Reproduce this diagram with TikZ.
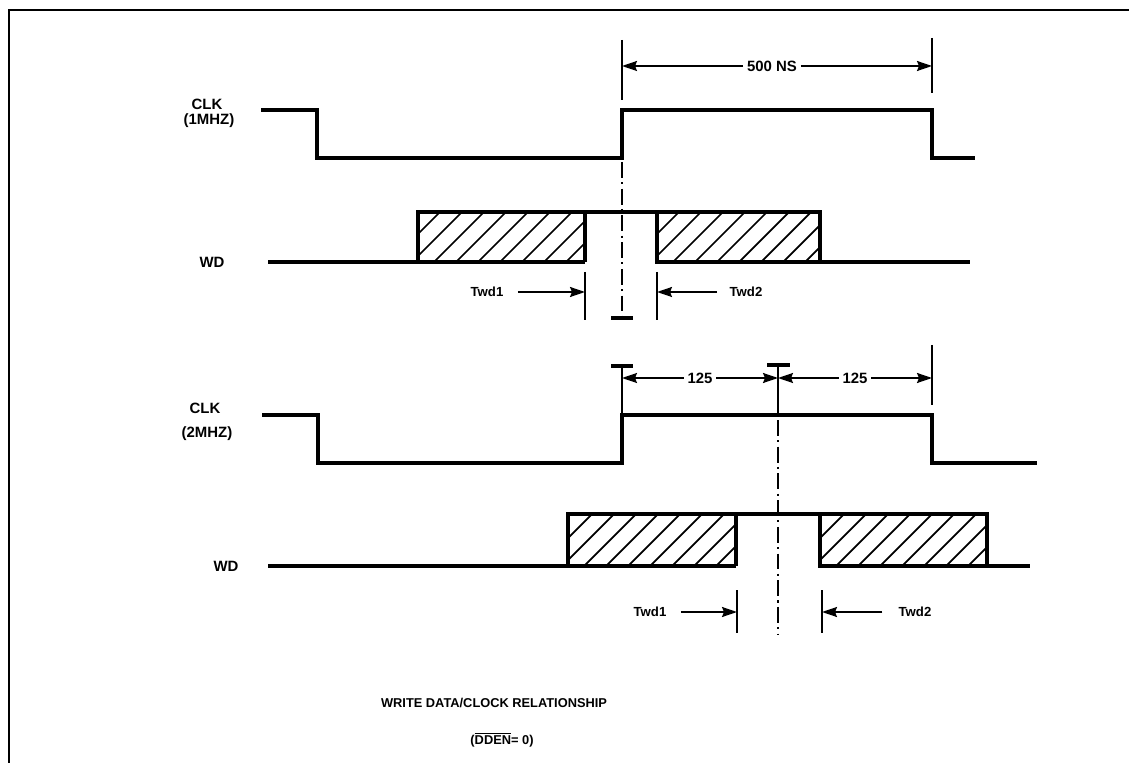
\documentclass[tikz,border=0pt]{standalone}
\usepackage{fontspec}
\setmainfont{Liberation Sans}
\usetikzlibrary{arrows.meta, positioning}
\tikzset{
    >={Stealth[length=3mm,width=2mm,inset=0.4mm]},  % narrow filled heads
    frame/.style={line width=1.6pt},
    signal/.style={line width=2.2pt, line join=miter},
    tick/.style={line width=1.1pt},
    bar/.style={line width=1.8pt},
    dim/.style={line width=1pt, ->},
    centre/.style={line width=1pt, dash pattern=on 9pt off 2.5pt on 1.2pt off 2.5pt},
    hatch/.style={line width=1pt},
    lbl/.style={font=\fontsize{8.5}{9}\selectfont\bfseries, inner sep=1pt},
    dimtext/.style={font=\fontsize{8.5}{9}\selectfont\bfseries, inner sep=2pt},
    small/.style={font=\fontsize{7.5}{8}\selectfont\bfseries, inner sep=1pt},
    caption/.style={font=\fontsize{7.3}{8}\selectfont\bfseries, inner sep=1pt},
}
% hatching inside a data window: left x, right x, top y, bottom y
\newcommand{\hatchbox}[4]{%
  \begin{scope}
    \clip (#1,#3) rectangle (#2,#4);
    \foreach \s in {0,22,...,242}
      \draw[hatch] (#1-50+\s,#4) -- ++(60,-60);
  \end{scope}}

\begin{document}
\begin{tikzpicture}[x=0.02cm, y=-0.02cm]
\useasboundingbox (0,0) rectangle (1129,763);

% frame
\draw[frame] (9,763) -- (9,10) -- (1129,10);

% labels
\node[lbl] (clkA) at (207,104) {CLK};
\node[lbl] (clkAf) at (209,121) {(1MHZ)};
\node[lbl] (wdA) at (212,262) {WD};
\node[lbl] (clkB) at (205,408) {CLK};
\node[lbl] (clkBf) at (207,434) {(2MHZ)};
\node[lbl] (wdB) at (226,566) {WD};

%%% 1 MHz clock
\draw[signal] (261,110) -- (317,110) -- (317,158) -- (622,158) -- (622,110)
  -- (932,110) -- (932,158) -- (975,158);

% 500 NS
\draw[tick] (622,40) -- (622,100);
\draw[tick] (932,38) -- (932,93);
\node[dimtext] (ns) at (772,66) {500 NS};
\coordinate (nsL) at (622,66);
\coordinate (nsR) at (932,66);
\draw[dim] (ns) -- (nsL);
\draw[dim] (ns) -- (nsR);

% write data
\hatchbox{418}{585}{212}{262}
\hatchbox{657}{820}{212}{262}
\draw[signal] (268,262) -- (585,262);
\draw[signal] (418,262) -- (418,212) -- (820,212) -- (820,262);
\draw[signal] (585,212) -- (585,262);
\draw[signal] (657,212) -- (657,262) -- (970,262);

\draw[centre] (622,162) -- (622,318);
\draw[bar] (611,318) -- (633,318);

% Twd1 / Twd2
\draw[tick] (585,272) -- (585,320);
\draw[tick] (657,272) -- (657,320);
\node[small] (twdA1) at (487,292) {Twd1};
\node[small] (twdA2) at (746,292) {Twd2};
\coordinate (tA1) at (585,292);
\coordinate (tA2) at (657,292);
\draw[dim, shorten <=7pt] (twdA1.east) -- (tA1);
\draw[dim, shorten <=6pt] (twdA2.west) -- (tA2);

%%% 2 MHz clock
\draw[signal] (262,415) -- (318,415) -- (318,463) -- (622,463) -- (622,415)
  -- (932,415) -- (932,463) -- (1037,463);

% 125 / 125
\draw[bar] (611,366) -- (633,366);
\draw[tick] (622,366) -- (622,413);
\draw[bar] (767,365) -- (790,365);
\draw[tick] (778,365) -- (778,415);
\draw[tick] (932,345) -- (932,405);
\node[dimtext] (qa) at (700,378) {125};
\node[dimtext] (qb) at (855,378) {125};
\coordinate (qL) at (622,378);
\coordinate (qM) at (778,378);
\coordinate (qR) at (932,378);
\draw[dim] (qa) -- (qL);
\draw[dim] (qa) -- (qM);
\draw[dim] (qb) -- (qM);
\draw[dim] (qb) -- (qR);

% write data
\hatchbox{568}{736}{514}{566}
\hatchbox{820}{987}{514}{566}
\draw[signal] (268,566) -- (736,566);
\draw[signal] (568,566) -- (568,514) -- (987,514) -- (987,566);
\draw[signal] (736,514) -- (736,566);
\draw[signal] (820,514) -- (820,566) -- (1030,566);

\draw[centre] (778,420) -- (778,635);

% Twd1 / Twd2
\draw[tick] (737,590) -- (737,633);
\draw[tick] (822,590) -- (822,633);
\node[small] (twdB1) at (650,612) {Twd1};
\node[small] (twdB2) at (915,612) {Twd2};
\coordinate (tB1) at (737,612);
\coordinate (tB2) at (822,612);
\draw[dim, shorten <=7pt] (twdB1.east) -- (tB1);
\draw[dim, shorten <=8pt] (twdB2.west) -- (tB2);

% caption
\node[caption] (title) at (494,703) {WRITE DATA/CLOCK RELATIONSHIP};
\node[caption] (dden) at (502,740) {($\overline{\hbox{DDEN}}$= 0)};

\end{tikzpicture}
\end{document}
